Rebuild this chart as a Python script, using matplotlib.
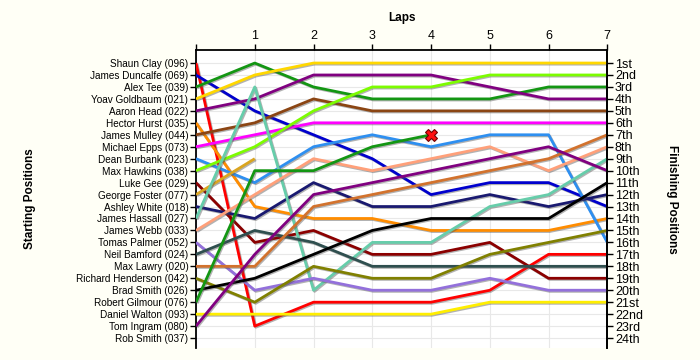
import matplotlib
matplotlib.use("Agg")
import matplotlib.pyplot as plt
import matplotlib.patheffects as pe

# ---------------------------------------------------------------------------
# Race data: grid order, finishing labels and position per lap (None = out)
# ---------------------------------------------------------------------------
laps = [0, 1, 2, 3, 4, 5, 6, 7]

start_labels = [
    "Shaun Clay (096)", "James Duncalfe (069)", "Alex Tee (039)",
    "Yoav Goldbaum (021)", "Aaron Head (022)", "Hector Hurst (035)",
    "James Mulley (044)", "Michael Epps (073)", "Dean Burbank (023)",
    "Max Hawkins (038)", "Luke Gee (029)", "George Foster (077)",
    "Ashley White (018)", "James Hassall (027)", "James Webb (033)",
    "Tomas Palmer (052)", "Neil Bamford (024)", "Max Lawry (020)",
    "Richard Henderson (042)", "Brad Smith (026)", "Robert Gilmour (076)",
    "Daniel Walton (093)", "Tom Ingram (080)", "Rob Smith (037)",
]

finish_labels = [
    "1st", "2nd", "3rd", "4th", "5th", "6th", "7th", "8th", "9th", "10th",
    "11th", "12th", "13th", "14th", "15th", "16th", "17th", "18th", "19th",
    "20th", "21st", "22nd", "23rd", "24th",
]

shaun_clay = [1, 23, 21, 21, 21, 20, 17, 17]
james_duncalfe = [2, 5, 7, 9, 12, 11, 11, 13]
alex_tee = [3, 1, 3, 4, 4, 4, 3, 3]
yoav_goldbaum = [4, 2, 1, 1, 1, 1, 1, 1]
aaron_head = [5, 4, 2, 2, 2, 3, 4, 4]
hector_hurst = [6, 13, 14, 14, 15, 15, 15, 14]
james_mulley = [7, 6, 4, 5, 5, 5, 5, 5]
michael_epps = [8, 7, 6, 6, 6, 6, 6, 6]
dean_burbank = [9, 11, 8, 7, 8, 7, 7, 16]
max_hawkins = [10, 8, 5, 3, 3, 2, 2, 2]
luke_gee = [11, 16, 15, 17, 17, 16, 19, 19]
george_foster = [12, 9, None, None, None, None, None, None]
ashley_white = [13, 14, 11, 13, 13, 12, 13, 12]
james_hassall = [14, 3, 20, 16, 16, 13, 12, 9]
james_webb = [15, 12, 9, 10, 9, 8, 10, 8]
tomas_palmer = [16, 20, 19, 20, 20, 19, 20, 20]
neil_bamford = [17, 15, 16, 18, 18, 18, 18, 18]
max_lawry = [18, 18, 13, 12, 11, 10, 9, 7]
richard_henderson = [19, 21, 18, 19, 19, 17, 16, 15]
brad_smith = [20, 19, 17, 15, 14, 14, 14, 11]
robert_gilmour = [21, 10, 10, 8, 7, None, None, None]
daniel_walton = [22, 22, 22, 22, 22, 21, 21, 21]
tom_ingram = [23, 17, 12, 11, 10, 9, 8, 10]

series = [
    shaun_clay, james_duncalfe, alex_tee, yoav_goldbaum, aaron_head,
    hector_hurst, james_mulley, michael_epps, dean_burbank, max_hawkins,
    luke_gee, george_foster, ashley_white, james_hassall, james_webb,
    tomas_palmer, neil_bamford, max_lawry, richard_henderson, brad_smith,
    robert_gilmour, daniel_walton, tom_ingram,
]

colors = [
    "#ff0000", "#0000cd", "#139613", "#ffd700", "#800080",
    "#ff8c00", "#8b4513", "#ff00ff", "#2e8ff0", "#7cfc00",
    "#8b0000", "#daa520", "#191970", "#66cdaa", "#ffa07a",
    "#9370db", "#2f4f4f", "#d2722d", "#808000", "#000000",
    "#139613", "#ffee00", "#800080",
]

# lap and position where a car retired with an X marker
crash_lap = [4]
crash_pos = [7]

BG = "#fffff6"
GRID = "#e8e8e8"

fig = plt.figure(figsize=(7.0, 3.6), dpi=100, facecolor=BG)
ax = fig.add_axes([196 / 700, 12 / 360, 411.3 / 700, 298 / 360])
ax.set_facecolor("white")

shadow = [pe.SimpleLineShadow(offset=(0.8, -0.8), shadow_color="#555555",
                              alpha=0.45), pe.Normal()]

for pos, col in zip(series, colors):
    xs = [lap for lap, p in zip(laps, pos) if p is not None]
    ys = [p for p in pos if p is not None]
    ax.plot(xs, ys, color=col, linewidth=2.0, solid_capstyle="butt",
            path_effects=shadow, zorder=3)

ax.plot(crash_lap, crash_pos, linestyle="none", marker="X", markersize=9,
        markerfacecolor="#ff1010", markeredgecolor="#700000",
        markeredgewidth=0.8, zorder=5)

n = len(start_labels)
ax.set_xlim(0, 7)
ax.set_ylim(24.83, -0.09)

ax.set_xticks(laps)
ax.set_xticklabels([""] + [str(l) for l in laps[1:]])
ax.xaxis.tick_top()
ax.set_yticks(range(1, n + 1))
ax.set_yticklabels(start_labels)
ax.grid(True, color=GRID, linewidth=0.8, zorder=0)
ax.set_axisbelow(True)

label_font = dict(family=["Liberation Sans", "DejaVu Sans"])
ax.tick_params(axis="y", direction="out", length=4, width=1, pad=1.5,
               labelsize=7.2)
ax.tick_params(axis="x", direction="out", length=4, width=1, pad=1.5,
               labelsize=9)
for t in ax.get_yticklabels() + ax.get_xticklabels():
    t.set_family(label_font["family"])

for side in ("left", "right", "top"):
    ax.spines[side].set_linewidth(1.3)
ax.spines["bottom"].set_visible(False)

ax2 = ax.twinx()
ax2.set_ylim(ax.get_ylim())
ax2.set_yticks(range(1, n + 1))
ax2.set_yticklabels(finish_labels)
ax2.tick_params(axis="y", direction="out", length=4, width=1, pad=1.5,
                labelsize=9)
for t in ax2.get_yticklabels():
    t.set_family(label_font["family"])
ax2.spines["bottom"].set_visible(False)
ax2.spines["right"].set_linewidth(1.3)
ax2.spines["top"].set_visible(False)
ax2.spines["left"].set_visible(False)

fig.text(401.6 / 700, 1 - 18 / 360, "Laps", ha="center", va="center",
         fontsize=8.5, fontweight="bold", **label_font)
fig.text(30 / 700, 1 - 199 / 360, "Starting Positions", ha="center",
         va="center", rotation=90, fontsize=8.5, fontweight="bold",
         **label_font)
fig.text(672 / 700, 1 - 199 / 360, "Finishing Positions", ha="center",
         va="center", rotation=270, fontsize=8.5, fontweight="bold",
         **label_font)

fig.savefig("out.png", dpi=100, facecolor=BG)
